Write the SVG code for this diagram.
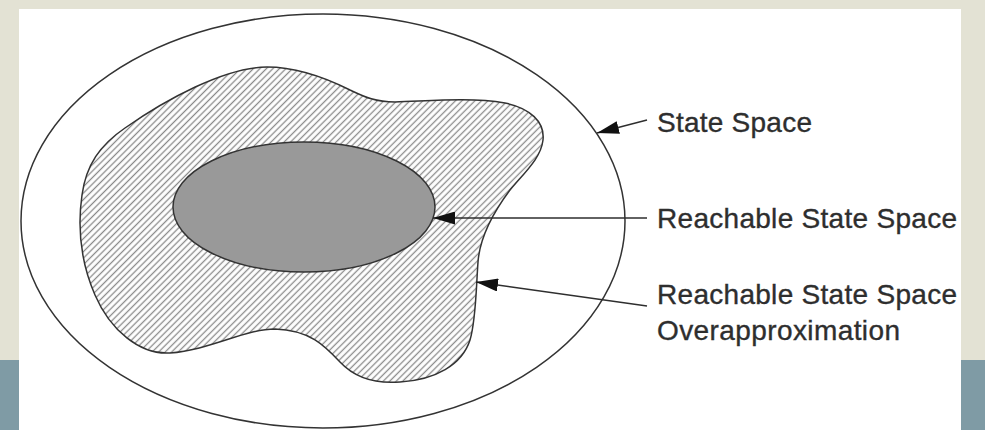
<svg xmlns="http://www.w3.org/2000/svg" width="985" height="430" viewBox="0 0 985 430">
  <style>
    .lbl { font-family: "Liberation Sans", Arial, sans-serif; font-size: 28px; fill: #2e2e2e; stroke: #2e2e2e; stroke-width: 0.35; }
    .conn { stroke: #2e2e2e; stroke-width: 1.4; fill: none; marker-end: url(#arrow); }
    .outline { stroke: #333333; stroke-width: 1.5; }
  </style>
  <defs>
    <marker id="arrow" markerUnits="userSpaceOnUse" markerWidth="23" markerHeight="13" refX="22" refY="6.5" orient="auto">
      <path d="M0,0 L22,6.5 L0,13 Z" fill="#111111"/>
    </marker>
    <pattern id="hatch" patternUnits="userSpaceOnUse" width="4.6" height="4.6" patternTransform="rotate(45)">
      <rect width="4.6" height="4.6" fill="#ffffff"/>
      <line x1="2.3" y1="0" x2="2.3" y2="4.6" stroke="#8a8a8a" stroke-width="1.3"/>
    </pattern>
  </defs>

  <!-- background -->
  <rect x="0" y="0" width="985" height="430" fill="#e3e2d4"/>
  <rect x="0" y="360" width="985" height="70" fill="#7f9ba5"/>
  <rect x="19" y="9" width="942" height="421" fill="#ffffff"/>

  <g id="state-space">
    <ellipse cx="323" cy="221" rx="302" ry="207" fill="none" class="outline"/>
  </g>

  <g id="overapproximation">
    <path class="outline" fill="url(#hatch)" d="M 267,67 C 300,67 330,80 350,90 C 365,97 375,102 395,102 C 430,101 470,97 505,103 C 530,108 545,122 543,140 C 541,158 525,172 510,190 C 495,210 480,235 478,262 C 476,290 476,320 470,340 C 462,365 435,380 400,382 C 375,384 355,378 340,362 C 325,346 310,330 275,329 C 245,329 210,350 170,353 C 140,355 110,330 95,295 C 82,265 77,230 82,195 C 86,165 100,145 125,128 C 165,100 225,67 267,67 Z"/>
  </g>

  <g id="reachable">
    <ellipse cx="304" cy="207" rx="131" ry="65" fill="#999999" class="outline"/>
  </g>

  <g id="connectors">
    <line class="conn" x1="647" y1="120" x2="597" y2="133"/>
    <line class="conn" x1="647" y1="218" x2="433" y2="218"/>
    <line class="conn" x1="647" y1="306" x2="476" y2="282"/>
  </g>

  <g id="labels">
    <text class="lbl" x="657" y="132" textLength="155">State Space</text>
    <text class="lbl" x="657" y="228" textLength="300">Reachable State Space</text>
    <text class="lbl" x="657" y="304" textLength="300">Reachable State Space</text>
    <text class="lbl" x="657" y="340" textLength="243">Overapproximation</text>
  </g>
</svg>
